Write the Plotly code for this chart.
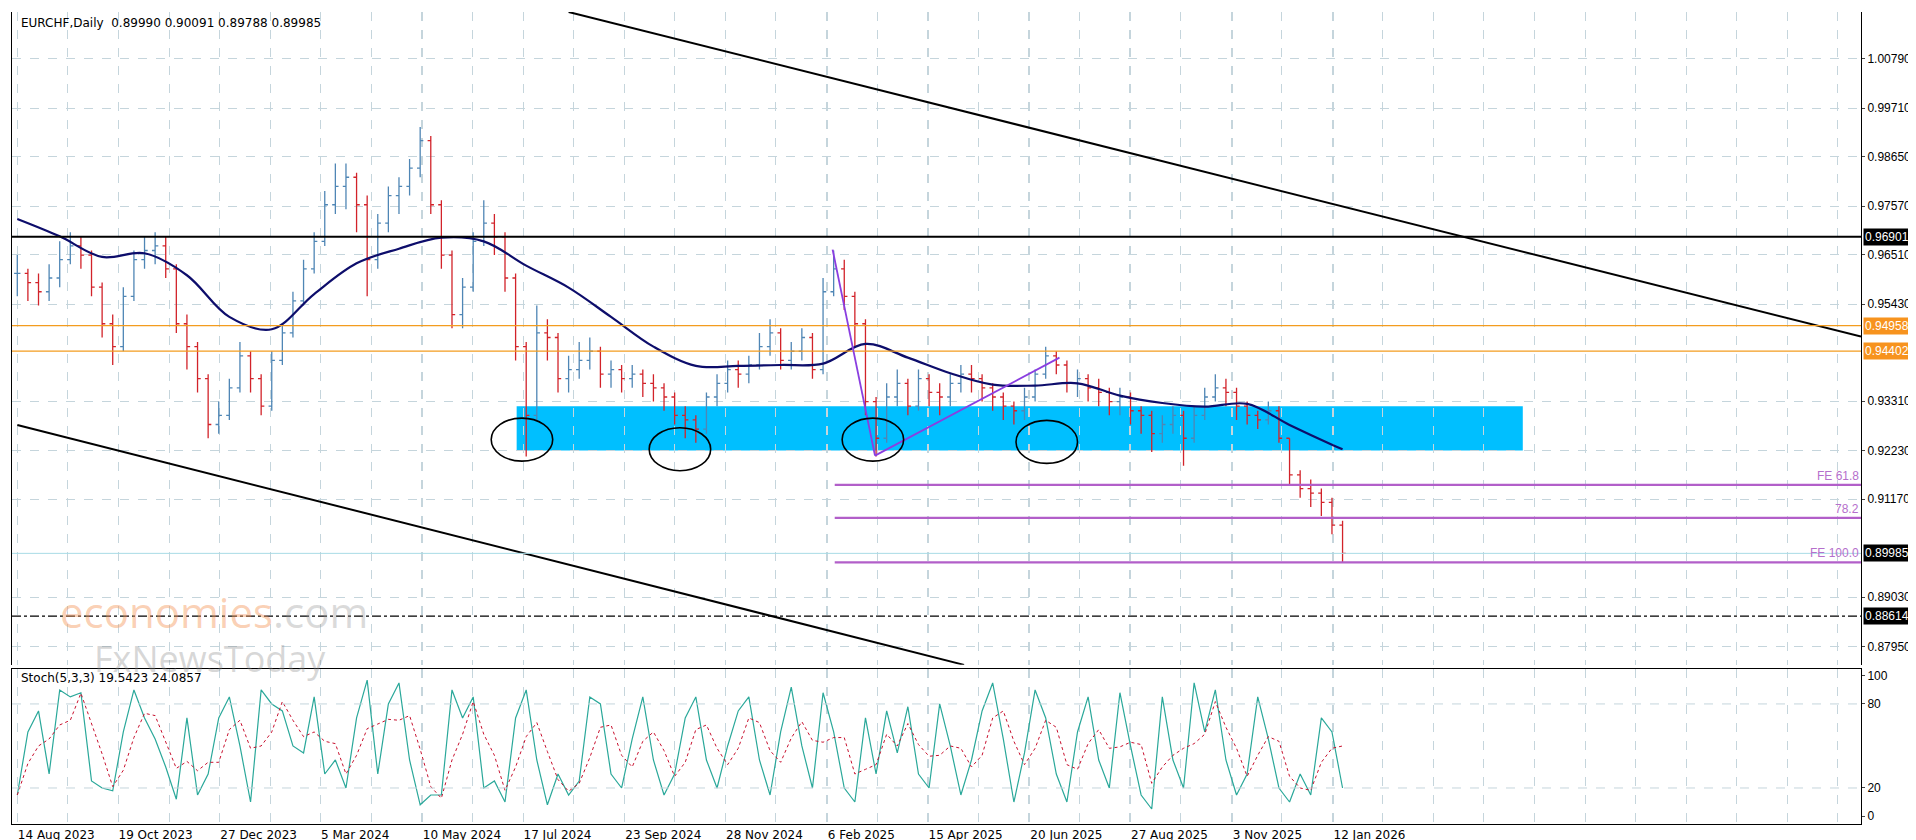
import plotly.graph_objects as go
import pandas as pd

# weekly bars (week 0 = 14 Aug 2023)
closes = [0.9610, 0.9590, 0.9570, 0.9600, 0.9640, 0.9670, 0.9650, 0.9580, 0.9500, 0.9450,
          0.9560, 0.9640, 0.9660, 0.9670, 0.9620, 0.9500, 0.9450, 0.9380, 0.9280, 0.9300,
          0.9360, 0.9430, 0.9380, 0.9320, 0.9420, 0.9480, 0.9550, 0.9620, 0.9680, 0.9760,
          0.9800, 0.9820, 0.9760, 0.9640, 0.9720, 0.9780, 0.9800, 0.9840, 0.9900, 0.9760,
          0.9650, 0.9520, 0.9580, 0.9680, 0.9720, 0.9690, 0.9600, 0.9450, 0.9300, 0.9480,
          0.9470, 0.9380, 0.9400, 0.9420, 0.9440, 0.9390, 0.9400, 0.9380, 0.9390, 0.9370,
          0.9360, 0.9340, 0.9300, 0.9290, 0.9270, 0.9340, 0.9370, 0.9400, 0.9390, 0.9410,
          0.9450, 0.9480, 0.9420, 0.9440, 0.9470, 0.9400, 0.9570, 0.9620, 0.9560, 0.9500,
          0.9330, 0.9250, 0.9340, 0.9370, 0.9320, 0.9380, 0.9350, 0.9340, 0.9370, 0.9390,
          0.9380, 0.9360, 0.9340, 0.9320, 0.9310, 0.9340, 0.9390, 0.9430, 0.9410, 0.9370,
          0.9380, 0.9360, 0.9350, 0.9330, 0.9340, 0.9310, 0.9300, 0.9260, 0.9280, 0.9300,
          0.9250, 0.9300, 0.9340, 0.9360, 0.9350, 0.9320, 0.9300, 0.9290, 0.9310, 0.9250,
          0.9170, 0.9140, 0.9130, 0.9110, 0.9060, 0.89985]
highs = [0.9650, 0.9620, 0.9610, 0.9630, 0.9680, 0.9700, 0.9690, 0.9660, 0.9590, 0.9520,
         0.9580, 0.9660, 0.9690, 0.9700, 0.9690, 0.9630, 0.9520, 0.9460, 0.9390, 0.9330,
         0.9380, 0.9460, 0.9440, 0.9390, 0.9440, 0.9500, 0.9570, 0.9640, 0.9700, 0.9790,
         0.9850, 0.9850, 0.9830, 0.9780, 0.9740, 0.9800, 0.9820, 0.9860, 0.9930, 0.9910,
         0.9770, 0.9660, 0.9600, 0.9700, 0.9770, 0.9740, 0.9700, 0.9610, 0.9460, 0.9540,
         0.9510, 0.9480, 0.9430, 0.9460, 0.9470, 0.9450, 0.9420, 0.9410, 0.9410, 0.9400,
         0.9390, 0.9370, 0.9350, 0.9320, 0.9300, 0.9350, 0.9390, 0.9420, 0.9420, 0.9430,
         0.9480, 0.9510, 0.9490, 0.9460, 0.9490, 0.9480, 0.9600, 0.9660, 0.9640, 0.9570,
         0.9510, 0.9340, 0.9370, 0.9400, 0.9380, 0.9400, 0.9390, 0.9370, 0.9390, 0.9410,
         0.9410, 0.9390, 0.9370, 0.9350, 0.9330, 0.9360, 0.9400, 0.9450, 0.9440, 0.9420,
         0.9400, 0.9390, 0.9380, 0.9360, 0.9360, 0.9350, 0.9320, 0.9310, 0.9300, 0.9320,
         0.9310, 0.9320, 0.9360, 0.9390, 0.9380, 0.9360, 0.9330, 0.9310, 0.9330, 0.9320,
         0.9250, 0.9180, 0.9160, 0.9140, 0.9120, 0.9070]
lows = [0.9560, 0.9550, 0.9540, 0.9550, 0.9580, 0.9630, 0.9620, 0.9560, 0.9470, 0.9410,
        0.9440, 0.9550, 0.9620, 0.9630, 0.9600, 0.9480, 0.9400, 0.9350, 0.9250, 0.9260,
        0.9290, 0.9350, 0.9350, 0.9300, 0.9310, 0.9410, 0.9470, 0.9540, 0.9610, 0.9670,
        0.9740, 0.9750, 0.9700, 0.9560, 0.9620, 0.9700, 0.9740, 0.9780, 0.9820, 0.9740,
        0.9620, 0.9490, 0.9490, 0.9570, 0.9670, 0.9650, 0.9570, 0.9420, 0.9210, 0.9290,
        0.9420, 0.9350, 0.9350, 0.9380, 0.9400, 0.9360, 0.9360, 0.9350, 0.9360, 0.9340,
        0.9330, 0.9310, 0.9280, 0.9250, 0.9240, 0.9260, 0.9320, 0.9350, 0.9360, 0.9370,
        0.9400, 0.9430, 0.9400, 0.9400, 0.9420, 0.9380, 0.9390, 0.9560, 0.9530, 0.9450,
        0.9300, 0.9210, 0.9240, 0.9320, 0.9300, 0.9310, 0.9320, 0.9300, 0.9320, 0.9350,
        0.9350, 0.9330, 0.9310, 0.9290, 0.9280, 0.9290, 0.9330, 0.9380, 0.9390, 0.9350,
        0.9340, 0.9330, 0.9320, 0.9300, 0.9300, 0.9280, 0.9260, 0.9220, 0.9240, 0.9260,
        0.9190, 0.9240, 0.9290, 0.9330, 0.9320, 0.9290, 0.9280, 0.9270, 0.9280, 0.9240,
        0.9150, 0.9120, 0.9100, 0.9080, 0.9040, 0.8979]

ma_weeks = list(range(0, 125, 4)) + [125]
ma_values = [0.9729, 0.9691, 0.9646, 0.9654, 0.9606, 0.9515, 0.9488, 0.9565, 0.9632, 0.9664,
             0.9688, 0.9680, 0.9627, 0.9579, 0.9515, 0.9450, 0.9408, 0.9408, 0.9410, 0.9413,
             0.9456, 0.9426, 0.9392, 0.9367, 0.9365, 0.9370, 0.9343, 0.9327, 0.9319, 0.9325,
             0.9279, 0.9236, 0.9226]

stoch_k = [15, 60, 75, 30, 90, 85, 88, 25, 20, 18, 60, 90, 70, 55, 35, 12, 70, 15, 30, 70,
           85, 50, 10, 90, 80, 75, 50, 45, 85, 30, 40, 20, 70, 97, 30, 80, 95, 40, 8, 15,
           15, 90, 70, 85, 20, 25, 10, 70, 90, 40, 8, 30, 15, 25, 85, 80, 30, 20, 55, 85,
           40, 15, 30, 70, 85, 40, 20, 50, 75, 85, 40, 15, 60, 92, 50, 20, 88, 60, 20, 10,
           70, 30, 75, 45, 78, 30, 20, 80, 50, 15, 40, 75, 95, 55, 10, 45, 90, 70, 30, 10,
           60, 85, 40, 20, 88, 50, 15, 5, 85, 40, 20, 95, 60, 90, 40, 15, 30, 85, 55, 20,
           10, 30, 15, 70, 60, 20]

date_labels = ["14 Aug 2023", "19 Oct 2023", "27 Dec 2023", "5 Mar 2024", "10 May 2024",
               "17 Jul 2024", "23 Sep 2024", "28 Nov 2024", "6 Feb 2025", "15 Apr 2025",
               "20 Jun 2025", "27 Aug 2025", "3 Nov 2025", "12 Jan 2026"]
date_weeks = [0, 9.5, 19.1, 28.6, 38.2, 47.7, 57.3, 66.8, 76.4, 85.9, 95.5, 105.0, 114.6, 124.1]

price_ticks = [1.00790, 0.99710, 0.98650, 0.97570, 0.96510, 0.95430, 0.93310,
               0.92230, 0.91170, 0.89030, 0.87950]

weeks = list(range(len(closes)))
opens = [closes[0]] + closes[:-1]
stoch_d = pd.Series(stoch_k).rolling(3, min_periods=1).mean().tolist()

FONT = "DejaVu Sans"
AXFONT = "Liberation Sans"
GRID = "#c5d5dc"
XMAX = 173.9

fig = go.Figure()
fig.add_trace(go.Ohlc(x=weeks, open=opens, high=highs, low=lows, close=closes,
                      increasing=dict(line=dict(color="#4f86b5", width=1.3)),
                      decreasing=dict(line=dict(color="#d2232a", width=1.3)),
                      tickwidth=0.3, yaxis="y", xaxis="x", showlegend=False))
fig.add_trace(go.Scatter(x=ma_weeks, y=ma_values, mode="lines", line=dict(color="#0d0d6b", width=2.2),
                         line_shape="spline", yaxis="y", showlegend=False))
fig.add_trace(go.Scatter(x=weeks, y=stoch_k, mode="lines", line=dict(color="#2aa89a", width=1.2),
                         yaxis="y2", showlegend=False))
fig.add_trace(go.Scatter(x=weeks, y=stoch_d, mode="lines", line=dict(color="#c8102e", width=1, dash="dot"),
                         yaxis="y2", showlegend=False))

shapes = []
# cyan zone
shapes.append(dict(type="rect", x0=47.1, x1=142, y0=0.9223, y1=0.9320, xref="x", yref="y",
                   fillcolor="#00bfff", line=dict(width=0), layer="below"))
# channel
shapes.append(dict(type="line", x0=52, y0=1.0181, x1=XMAX, y1=0.9472, xref="x", yref="y",
                   line=dict(color="black", width=2)))
shapes.append(dict(type="line", x0=0, y0=0.9279, x1=89.3, y1=0.8755, xref="x", yref="y",
                   line=dict(color="black", width=2)))
# horizontal levels
for lvl, col, w, dash in [(0.96901, "black", 2, "solid"), (0.94958, "#f39c1f", 1.2, "solid"),
                          (0.94402, "#f39c1f", 1.2, "solid"), (0.89985, "#a8dce6", 1, "solid"),
                          (0.88614, "black", 1.2, "dashdot")]:
    shapes.append(dict(type="line", x0=-0.5, x1=XMAX, y0=lvl, y1=lvl, xref="x", yref="y",
                       line=dict(color=col, width=w, dash=dash)))
# fibo expansion lines
for lvl in [0.9148, 0.9076, 0.8979]:
    shapes.append(dict(type="line", x0=77.1, x1=XMAX, y0=lvl, y1=lvl, xref="x", yref="y",
                       line=dict(color="#b25fc9", width=2.2)))
# zigzag
shapes.append(dict(type="line", x0=76.9, y0=0.9662, x1=80.9, y1=0.9212, xref="x", yref="y",
                   line=dict(color="#8a3ee0", width=1.8)))
shapes.append(dict(type="line", x0=80.9, y0=0.9212, x1=98.3, y1=0.9426, xref="x", yref="y",
                   line=dict(color="#8a3ee0", width=1.8)))
# ellipses
for cx, cy in [(47.6, 0.9247), (62.5, 0.9226), (80.7, 0.9247), (97.1, 0.9242)]:
    shapes.append(dict(type="circle", x0=cx - 2.9, x1=cx + 2.9, y0=cy - 0.0047, y1=cy + 0.0047,
                       xref="x", yref="y", line=dict(color="black", width=1.6)))
# stoch levels
for lvl in [80, 20]:
    shapes.append(dict(type="line", x0=-0.5, x1=XMAX, y0=lvl, y1=lvl, xref="x", yref="y2",
                       line=dict(color=GRID, width=1, dash="dash")))

annotations = []
for lvl, bg in [(0.96901, "black"), (0.94958, "#f7931e"), (0.94402, "#f7931e"),
                (0.89985, "black"), (0.88614, "black")]:
    annotations.append(dict(x=1.0, xref="paper", xanchor="left", y=lvl, yref="y", text=f"{lvl:.5f}",
                            showarrow=False, bgcolor=bg, font=dict(color="white", size=12, family=AXFONT),
                            borderpad=1, xshift=2))
for lvl, txt in [(0.9148, "FE 61.8"), (0.9076, "78.2"), (0.8979, "FE 100.0")]:
    annotations.append(dict(x=XMAX, xref="x", xanchor="right", y=lvl, yref="y", yanchor="bottom",
                            text=txt, showarrow=False, font=dict(color="#b56fcc", size=12, family=AXFONT)))
annotations.append(dict(x=0.004, y=0.998, xref="paper", yref="paper", xanchor="left", yanchor="top",
                        text="EURCHF,Daily  0.89990 0.90091 0.89788 0.89985", showarrow=False,
                        font=dict(size=12, family=FONT, color="black")))
annotations.append(dict(x=0.004, y=0.191, xref="paper", yref="paper", xanchor="left", yanchor="top",
                        text="Stoch(5,3,3) 19.5423 24.0857", showarrow=False,
                        font=dict(size=12, family=FONT, color="black")))
annotations.append(dict(x=0.025, y=0.262, xref="paper", yref="paper", xanchor="left", yanchor="middle",
                        text="<span style='color:rgba(245,150,90,0.45)'>economies</span>"
                             "<span style='color:rgba(150,150,150,0.35)'>.com</span>",
                        showarrow=False, font=dict(size=42, family="Open Sans")))
annotations.append(dict(x=0.043, y=0.204, xref="paper", yref="paper", xanchor="left", yanchor="middle",
                        text="FxNewsToday", showarrow=False,
                        font=dict(size=36, family="Open Sans", color="rgba(140,140,140,0.35)")))

fig.update_layout(
    width=1916, height=840, paper_bgcolor="white", plot_bgcolor="white",
    margin=dict(l=4, r=63, t=4, b=24),
    shapes=shapes, annotations=annotations, showlegend=False,
    font=dict(family=AXFONT, size=12, color="black"),
    xaxis=dict(range=[-0.5, XMAX], tickvals=date_weeks, ticktext=date_labels, anchor="y2",
               ticklabelposition="outside right", showgrid=True, griddash="dash", gridcolor=GRID,
               minor=dict(dtick=4.77, tick0=0, showgrid=True, griddash="dash", gridcolor=GRID),
               rangeslider=dict(visible=False), showline=True, linecolor="black", mirror=True,
               ticks="", zeroline=False, tickfont=dict(size=12, family=FONT)),
    yaxis=dict(domain=[0.196, 1], range=[0.8755, 1.0181], side="right", tickvals=price_ticks,
               ticktext=[f"{t:.5f}" for t in price_ticks], showgrid=True, griddash="dash",
               gridcolor=GRID, showline=True, linecolor="black", mirror=True, ticks="outside",
               ticklen=3, zeroline=False),
    yaxis2=dict(domain=[0, 0.191], range=[-5.7, 105], side="right", tickvals=[100, 80, 20, 0],
                showgrid=False, showline=True, linecolor="black", mirror=True, ticks="outside",
                ticklen=3, zeroline=False),
)

fig.write_html("out.html")
